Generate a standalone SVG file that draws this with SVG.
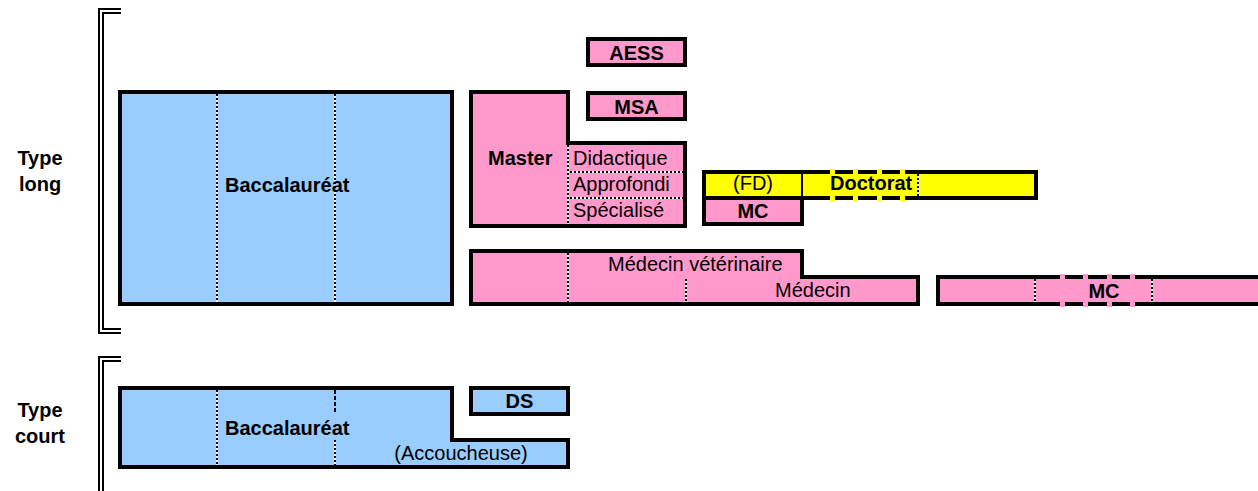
<svg xmlns="http://www.w3.org/2000/svg" width="1258" height="491" viewBox="0 0 1258 491">
<style>
text{font-family:"Liberation Sans",Arial,sans-serif;font-size:20px;fill:#000}
.b{font-weight:bold}
.m{text-anchor:middle}
.br{fill:none;stroke:#000;stroke-width:2}
.box{stroke:#000;stroke-width:4}
.blue{fill:#99CCFF}
.pink{fill:#FF99CC}
.yel{fill:#FFFF00}
.dw{stroke:#fff;stroke-width:2}
.dk{stroke:#000;stroke-width:2;stroke-dasharray:2 2}
.dd{stroke:#000;stroke-width:2;stroke-dasharray:4 2}
</style>
<rect width="1258" height="491" fill="#fff"/>
<g id="brackets">
<polyline class="br" points="121,9 99,9 99,333 121,333"/>
<polyline class="br" points="121,13 103,13 103,329 121,329"/>
<polyline class="br" points="121,357 99,357 99,495"/>
<polyline class="br" points="121,361 103,361 103,495"/>
</g>
<g id="label-long">
<text class="b m" x="40" y="165">Type</text>
<text class="b m" x="40" y="191">long</text>
</g>
<g id="label-court">
<text class="b m" x="40" y="417">Type</text>
<text class="b m" x="40" y="443">court</text>
</g>
<g id="bac-long">
<rect class="box blue" x="120" y="92" width="332" height="212"/>
<line class="dw" x1="217" y1="94" x2="217" y2="302"/><line class="dk" x1="217" y1="94" x2="217" y2="302"/>
<line class="dw" x1="335" y1="94" x2="335" y2="302"/><line class="dk" x1="335" y1="94" x2="335" y2="302"/>
<text class="b" x="225" y="192">Baccalauréat</text>
</g>
<g id="aess">
<rect class="box pink" x="588" y="39" width="97" height="26"/>
<text class="b m" x="636.5" y="59.5">AESS</text>
</g>
<g id="msa">
<rect class="box pink" x="588" y="93" width="97" height="26"/>
<text class="b m" x="636.5" y="113.5">MSA</text>
</g>
<g id="master">
<path class="box pink" d="M471,92 H568 V143 H685 V226 H471 Z"/>
<line class="dw" x1="568" y1="145" x2="568" y2="224"/><line class="dk" x1="568" y1="145" x2="568" y2="224"/>
<line class="dw" x1="570" y1="172" x2="683" y2="172"/><line class="dk" x1="570" y1="172" x2="683" y2="172"/>
<line class="dw" x1="570" y1="198" x2="683" y2="198"/><line class="dk" x1="570" y1="198" x2="683" y2="198"/>
<text class="b" x="488" y="165">Master</text>
<text x="573" y="165">Didactique</text>
<text x="573" y="191">Approfondi</text>
<text x="573" y="217">Spécialisé</text>
</g>
<g id="doctorat">
<rect class="box yel" x="704" y="172" width="332" height="26"/>
<line x1="802" y1="172" x2="802" y2="198" stroke="#000" stroke-width="2"/>
<g class="yel">
<rect x="830" y="169" width="5" height="6"/><rect x="853" y="169" width="5" height="6"/><rect x="877" y="169" width="5" height="6"/><rect x="900" y="169" width="5" height="6"/>
<rect x="830" y="195" width="5" height="6"/><rect x="853" y="195" width="5" height="6"/><rect x="877" y="195" width="5" height="6"/><rect x="900" y="195" width="5" height="6"/>
</g>
<line class="dw" x1="918" y1="174" x2="918" y2="196"/><line class="dk" x1="918" y1="174" x2="918" y2="196"/>
<text class="m" x="753" y="190">(FD)</text>
<text class="b" x="830" y="190">Doctorat</text>
</g>
<g id="mc-1">
<rect class="box pink" x="704" y="198" width="98" height="26"/>
<text class="b m" x="753" y="218">MC</text>
</g>
<g id="medecin">
<path class="box pink" d="M471,251 H802 V277 H918 V304 H471 Z"/>
<line class="dw" x1="568" y1="253" x2="568" y2="302"/><line class="dk" x1="568" y1="253" x2="568" y2="302"/>
<line class="dw" x1="686" y1="279" x2="686" y2="302"/><line class="dk" x1="686" y1="279" x2="686" y2="302"/>
<text x="608" y="271">Médecin vétérinaire</text>
<text x="775" y="297">Médecin</text>
</g>
<g id="mc-2">
<rect class="pink" x="938" y="277" width="330" height="27"/>
<path d="M1262,277 H938 V304 H1262" fill="none" stroke="#000" stroke-width="4"/>
<g class="pink">
<rect x="1060" y="274" width="5" height="6"/><rect x="1083" y="274" width="5" height="6"/><rect x="1107" y="274" width="5" height="6"/><rect x="1130" y="274" width="5" height="6"/>
<rect x="1060" y="301" width="5" height="6"/><rect x="1083" y="301" width="5" height="6"/><rect x="1107" y="301" width="5" height="6"/><rect x="1130" y="301" width="5" height="6"/>
</g>
<line class="dw" x1="1035" y1="279" x2="1035" y2="302"/><line class="dk" x1="1035" y1="279" x2="1035" y2="302"/>
<line class="dw" x1="1152" y1="279" x2="1152" y2="302"/><line class="dk" x1="1152" y1="279" x2="1152" y2="302"/>
<text class="b m" x="1104" y="297.5">MC</text>
</g>
<g id="bac-court">
<path class="box blue" d="M120,388 H452 V440 H568 V467 H120 Z"/>
<line class="dw" x1="217" y1="390" x2="217" y2="465"/><line class="dk" x1="217" y1="390" x2="217" y2="465"/>
<line class="dd" x1="335" y1="390" x2="335" y2="413"/>
<line class="dw" x1="335" y1="440" x2="335" y2="465"/><line class="dk" x1="335" y1="440" x2="335" y2="465"/>
<text class="b" x="225" y="435">Baccalauréat</text>
<text class="m" x="461" y="460">(Accoucheuse)</text>
</g>
<g id="ds">
<rect class="box blue" x="471" y="388" width="97" height="26"/>
<text class="b m" x="519.5" y="407.5">DS</text>
</g>
<g id="connectors"/>
</svg>
